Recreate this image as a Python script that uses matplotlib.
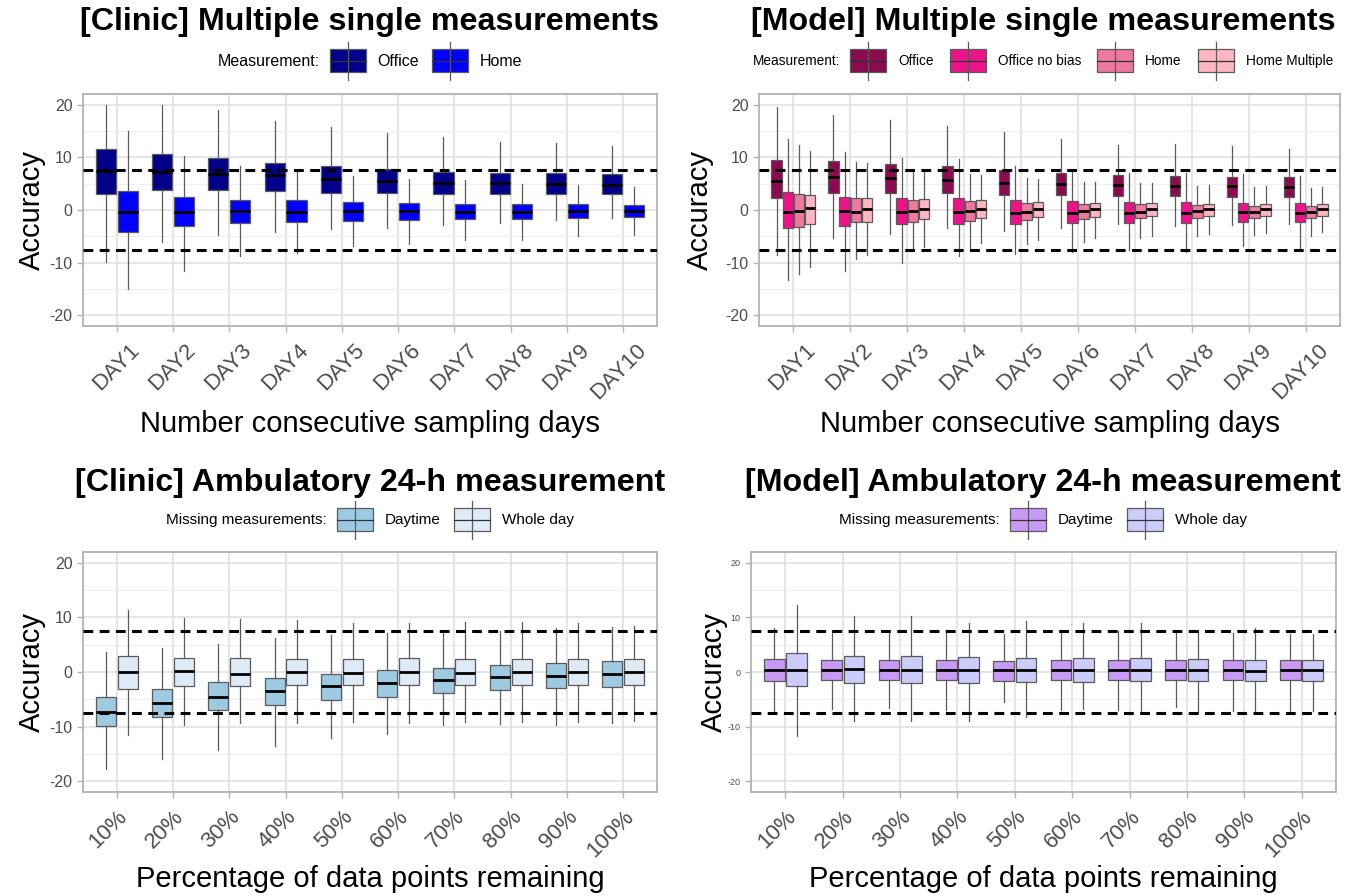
import numpy as np
import matplotlib
matplotlib.use("Agg")
import matplotlib.pyplot as plt
import matplotlib.transforms as mtransforms
from matplotlib.patches import Rectangle

plt.rcParams['font.family'] = ['Liberation Sans', 'DejaVu Sans']
plt.rcParams['axes.unicode_minus'] = False

W, H = 1357, 896

days = ['DAY1', 'DAY2', 'DAY3', 'DAY4', 'DAY5', 'DAY6', 'DAY7', 'DAY8', 'DAY9', 'DAY10']
pcts = ['10%', '20%', '30%', '40%', '50%', '60%', '70%', '80%', '90%', '100%']

# every row: lower whisker, Q1, median, Q3, upper whisker
clinic_office = [(-9.9, 3.0, 7.4, 11.6, 19.9), (-6.1, 3.8, 7.3, 10.6, 19.9),
                 (-4.7, 3.8, 6.8, 9.9, 18.9), (-4.1, 3.6, 6.6, 9.0, 16.8),
                 (-3.6, 3.3, 5.8, 8.3, 15.7), (-3.5, 3.2, 5.5, 7.8, 14.6),
                 (-2.8, 3.0, 5.2, 7.3, 13.9), (-2.4, 3.0, 5.1, 7.1, 12.9),
                 (-1.9, 3.0, 5.0, 7.0, 12.7), (-1.6, 3.0, 4.8, 6.8, 12.2)]
clinic_home = [(-15.0, -4.1, -0.3, 3.6, 14.9), (-11.5, -3.1, -0.3, 2.5, 10.2),
               (-8.8, -2.5, -0.1, 1.9, 8.3), (-8.2, -2.2, -0.3, 1.9, 7.2),
               (-6.9, -2.0, -0.1, 1.5, 6.5), (-6.4, -1.9, -0.1, 1.3, 5.9),
               (-5.7, -1.7, -0.3, 1.2, 5.7), (-5.7, -1.7, -0.3, 1.2, 5.0),
               (-5.0, -1.5, -0.1, 1.1, 4.8), (-4.7, -1.4, -0.1, 1.0, 4.4)]

model_office = [(-8.5, 2.2, 5.5, 9.4, 19.6), (-5.4, 3.2, 6.2, 9.2, 18.1),
                (-4.6, 3.2, 6.0, 8.8, 17.0), (-3.5, 3.2, 5.6, 8.4, 15.9),
                (-4.0, 2.9, 5.1, 7.5, 14.7), (-3.4, 2.8, 4.9, 7.1, 13.5),
                (-2.6, 2.7, 4.8, 6.7, 12.3), (-3.1, 2.7, 4.6, 6.5, 12.5),
                (-2.9, 2.5, 4.6, 6.3, 12.1), (-2.6, 2.5, 4.4, 6.2, 11.6)]
model_office_nobias = [(-13.3, -3.5, -0.3, 3.5, 13.5), (-11.5, -3.1, -0.1, 2.5, 11.0),
                       (-10.1, -2.7, -0.3, 2.2, 9.9), (-8.7, -2.7, -0.3, 2.3, 9.7),
                       (-8.4, -2.6, -0.6, 1.9, 8.4), (-8.0, -2.5, -0.5, 1.7, 7.5),
                       (-7.5, -2.4, -0.5, 1.5, 7.1), (-7.9, -2.4, -0.5, 1.5, 7.0),
                       (-6.8, -2.2, -0.3, 1.4, 6.8), (-7.5, -2.2, -0.5, 1.3, 6.5)]
model_home = [(-12.2, -3.2, -0.1, 3.1, 12.3), (-9.2, -2.3, -0.3, 2.2, 9.1),
              (-7.3, -2.3, -0.1, 1.9, 7.7), (-7.2, -2.0, -0.1, 1.7, 6.9),
              (-6.4, -1.9, -0.3, 1.4, 6.0), (-6.0, -1.7, -0.2, 1.2, 5.4),
              (-5.3, -1.6, -0.3, 1.1, 5.1), (-5.0, -1.5, -0.2, 0.9, 4.6),
              (-4.8, -1.5, -0.3, 0.8, 4.4), (-4.9, -1.5, -0.3, 0.7, 4.1)]
model_home_multiple = [(-10.8, -2.7, 0.3, 2.9, 11.2), (-8.6, -2.3, 0.1, 2.3, 8.9),
                       (-7.0, -1.8, 0.2, 2.0, 7.4), (-6.2, -1.5, 0.1, 1.9, 6.6),
                       (-5.6, -1.4, 0.1, 1.5, 5.8), (-5.3, -1.4, 0.1, 1.4, 5.4),
                       (-5.0, -1.2, 0.1, 1.4, 5.1), (-4.6, -1.2, 0.2, 1.2, 4.8),
                       (-4.4, -1.2, 0.1, 1.2, 4.6), (-4.1, -1.2, 0.1, 1.1, 4.3)]

clinic_daytime = [(-17.7, -9.9, -7.3, -4.5, 3.7), (-16.0, -8.2, -5.7, -3.1, 4.4),
                  (-14.3, -7.0, -4.5, -1.9, 5.2), (-13.5, -6.0, -3.4, -1.1, 6.3),
                  (-12.1, -5.2, -2.6, -0.4, 6.7), (-11.4, -4.5, -2.1, 0.4, 7.2),
                  (-9.8, -3.9, -1.5, 0.8, 7.4), (-9.6, -3.3, -1.0, 1.2, 7.6),
                  (-9.8, -2.9, -0.7, 1.7, 8.0), (-9.4, -2.7, -0.4, 2.0, 8.2)]
clinic_wholeday = [(-11.6, -3.1, 0.0, 2.9, 11.4), (-9.8, -2.5, 0.1, 2.6, 9.9),
                   (-9.3, -2.5, -0.3, 2.6, 9.7), (-9.3, -2.4, 0.0, 2.4, 9.5),
                   (-9.2, -2.4, -0.1, 2.4, 9.0), (-9.4, -2.4, 0.0, 2.5, 9.0),
                   (-9.1, -2.3, -0.1, 2.4, 9.2), (-9.1, -2.4, 0.0, 2.4, 9.1),
                   (-9.2, -2.4, 0.0, 2.4, 9.0), (-9.0, -2.4, 0.0, 2.4, 8.4)]

model_daytime = [(-7.2, -1.7, 0.3, 2.4, 8.1), (-6.8, -1.5, 0.3, 2.2, 7.7),
                 (-6.6, -1.5, 0.3, 2.2, 7.2), (-7.0, -1.5, 0.3, 2.2, 7.7),
                 (-5.5, -1.7, 0.3, 2.0, 7.0), (-7.0, -1.5, 0.3, 2.2, 7.7),
                 (-7.0, -1.5, 0.3, 2.2, 7.5), (-6.5, -1.5, 0.3, 2.2, 7.3),
                 (-7.2, -1.5, 0.3, 2.2, 7.2), (-7.2, -1.5, 0.3, 2.2, 7.0)]
model_wholeday = [(-11.7, -2.6, 0.4, 3.5, 12.3), (-9.0, -2.1, 0.5, 2.9, 10.3),
                  (-8.9, -2.1, 0.3, 2.9, 10.3), (-9.0, -2.0, 0.4, 2.7, 8.9),
                  (-8.2, -1.9, 0.4, 2.6, 9.4), (-6.7, -1.9, 0.4, 2.6, 9.0),
                  (-7.3, -1.7, 0.3, 2.6, 8.9), (-7.5, -1.7, 0.3, 2.4, 7.7),
                  (-7.4, -1.7, 0.1, 2.2, 8.0), (-7.2, -1.7, 0.3, 2.2, 7.0)]

GRID = '#DEDEDE'
BORDER = '#B3B3B3'
EDGE = '#5A5A5A'

fig = plt.figure(figsize=(W / 100, H / 100), dpi=100)

# overlay in pixel coordinates for titles and legends
lax = fig.add_axes([0, 0, 1, 1])
lax.set_xlim(0, W)
lax.set_ylim(H, 0)
lax.axis('off')


def px_axes(l, t, r, b):
    return fig.add_axes([l / W, 1 - b / H, (r - l) / W, (b - t) / H])


def draw_panel(ax, series, colors, labels, xlabel, tick_fs, ylab_x, lab_shift):
    n = len(series)
    width = 0.78 / n
    offsets = (np.arange(n) - (n - 1) / 2) * width
    pos = np.arange(1, len(labels) + 1)
    for s, c, off in zip(series, colors, offsets):
        stats = [dict(whislo=r[0], q1=r[1], med=r[2], q3=r[3], whishi=r[4]) for r in s]
        ax.bxp(stats, positions=pos + off, widths=width * 0.92, patch_artist=True,
               showfliers=False, showcaps=False, manage_ticks=False,
               boxprops=dict(facecolor=c, edgecolor=EDGE, linewidth=0.9),
               whiskerprops=dict(color=EDGE, linewidth=0.9),
               medianprops=dict(color='black', linewidth=2.0))
    for yv in (7.5, -7.5):
        ax.axhline(yv, color='black', lw=2.2, ls=(0, (3.2, 2.1)), zorder=5)
    ax.set_xlim(0.4, len(labels) + 0.6)
    ax.set_ylim(-22, 22)
    ax.set_yticks([-20, -10, 0, 10, 20])
    ax.set_yticks([-15, -5, 5, 15], minor=True)
    ax.set_xticks(pos)
    ax.set_axisbelow(True)
    ax.grid(which='major', color=GRID, lw=1.1)
    ax.grid(which='minor', axis='y', color='#EBEBEB', lw=0.6)
    ax.tick_params(axis='both', which='major', color=BORDER, width=1, length=4,
                   labelcolor='#4D4D4D')
    ax.tick_params(axis='y', labelsize=tick_fs)
    ax.tick_params(axis='y', which='minor', length=0)
    ax.tick_params(axis='x', pad=6)
    ax.set_xticklabels(labels, rotation=45, ha='right', va='top',
                       rotation_mode='anchor', fontsize=16, color='#4D4D4D')
    shift = mtransforms.ScaledTranslation(lab_shift / 100, 0, fig.dpi_scale_trans)
    for lb in ax.get_xticklabels():
        lb.set_transform(lb.get_transform() + shift)
    for sp in ax.spines.values():
        sp.set_color(BORDER)
        sp.set_linewidth(1.3)
    ax.set_ylabel('Accuracy', fontsize=21)
    ax.set_xlabel(xlabel, fontsize=21)
    bb = ax.get_position()
    ax.yaxis.set_label_coords((ylab_x / W - bb.x0) / bb.width, 0.5)


def draw_title_legend(cx, ty, title, ly, ltitle, labels, colors, fs, gap=13):
    lax.text(cx, ty, title, fontsize=23.2, fontweight='bold', ha='center', va='center')
    r = fig.canvas.get_renderer()
    kw, kh, wh = 36, 23, 19
    t = lax.text(0, ly, ltitle, fontsize=fs, ha='left', va='center')
    items = [lax.text(0, ly, lb, fontsize=fs, ha='left', va='center') for lb in labels]
    widths = [t.get_window_extent(r).width] + [it.get_window_extent(r).width for it in items]
    total = widths[0] + 10 + sum(kw + 12 + w for w in widths[1:]) + gap * (len(labels) - 1)
    x = cx - total / 2
    t.set_x(x)
    x += widths[0] + 10
    for it, w, c in zip(items, widths[1:], colors):
        lax.plot([x + kw / 2] * 2, [ly - wh, ly + wh], color=EDGE, lw=0.9)
        lax.add_patch(Rectangle((x, ly - kh / 2), kw, kh, facecolor=c, edgecolor=EDGE, lw=0.9))
        lax.plot([x, x + kw], [ly, ly], color='#333333', lw=0.9)
        x += kw + 12
        it.set_x(x)
        x += w + gap


# top-left
ax1 = px_axes(83, 94, 657, 326)
draw_panel(ax1, [clinic_office, clinic_home], ['#00008B', '#0000FF'], days,
           'Number consecutive sampling days', 11.5, 46, 12)
draw_title_legend(370, 22, '[Clinic] Multiple single measurements', 61,
                  'Measurement:', ['Office', 'Home'], ['#00008B', '#0000FF'], 11.5)

# top-right
model_cols = ['#8B0A50', '#EE1289', '#EE799F', '#FFB6C1']
ax2 = px_axes(759, 94, 1340, 326)
draw_panel(ax2, [model_office, model_office_nobias, model_home, model_home_multiple],
           model_cols, days, 'Number consecutive sampling days', 11.5, 714, 12)
draw_title_legend(1043, 22, '[Model] Multiple single measurements', 61,
                  'Measurement:', ['Office', 'Office no bias', 'Home', 'Home Multiple'],
                  model_cols, 9.8, gap=16)

# bottom-left
ax3 = px_axes(83, 552, 657, 792)
draw_panel(ax3, [clinic_daytime, clinic_wholeday], ['#9ECAE1', '#DEEBF7'], pcts,
           'Percentage of data points remaining', 11.5, 46, 0)
draw_title_legend(370, 483, '[Clinic] Ambulatory 24-h measurement', 520,
                  'Missing measurements:', ['Daytime', 'Whole day'],
                  ['#9ECAE1', '#DEEBF7'], 11)

# bottom-right
ax4 = px_axes(751, 552, 1336, 792)
draw_panel(ax4, [model_daytime, model_wholeday], ['#C99AF5', '#CCCCFA'], pcts,
           'Percentage of data points remaining', 6.5, 728, 0)
draw_title_legend(1043, 483, '[Model] Ambulatory 24-h measurement', 520,
                  'Missing measurements:', ['Daytime', 'Whole day'],
                  ['#C99AF5', '#CCCCFA'], 11)

for ax in (ax1, ax2):
    bb = ax.get_position()
    ax.xaxis.set_label_coords(0.5, ((1 - 410 / H) - bb.y0) / bb.height)
for ax in (ax3, ax4):
    bb = ax.get_position()
    ax.xaxis.set_label_coords(0.5, ((1 - 865 / H) - bb.y0) / bb.height)

fig.savefig('out.png', dpi=100)
